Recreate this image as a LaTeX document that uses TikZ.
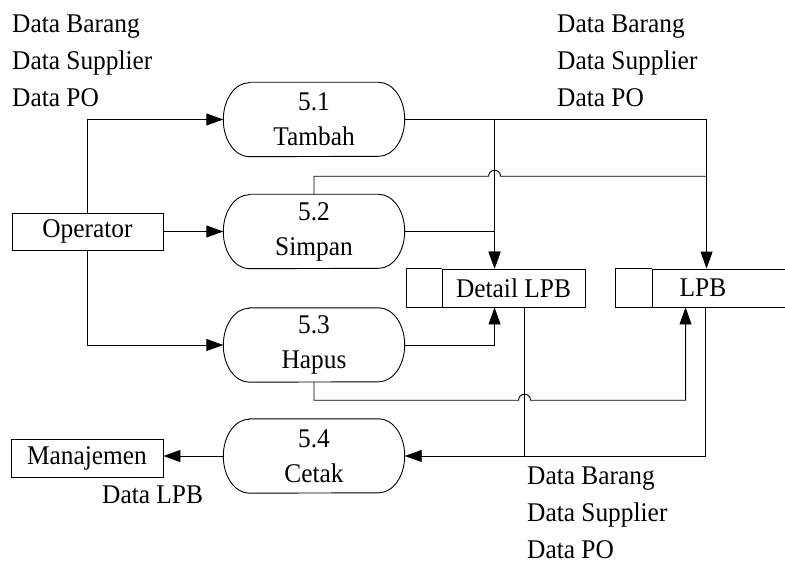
\documentclass[tikz,border=0pt]{standalone}
\usepackage{fontspec}
\setmainfont{Liberation Serif}[FakeStretch=0.94]
\usetikzlibrary{arrows.meta}
\tikzset{data flow/.style={line width=0.9pt, -{Triangle[length=17pt,width=12pt]}}}
\tikzset{process node/.style={minimum width=181pt, minimum height=74pt, inner sep=0pt,
           align=center, font=\fontsize{27}{35}\selectfont},
         entity box/.style={draw, line width=0.9pt, minimum width=151pt, minimum height=37pt, inner sep=0pt},
         store node/.style={draw, line width=0.9pt, minimum height=38pt, inner sep=0pt},
         flow text/.style={align=left, anchor=north west, inner sep=0pt}}
% outline of a process: flat top and bottom, half-ellipse ends
\newcommand{\procframe}[1]{%
  \draw[line width=0.9pt] ([xshift=26pt]#1.north west) -- ([xshift=-26pt]#1.north east)
    arc[start angle=90, end angle=-90, x radius=26pt, y radius=37pt]
    -- ([xshift=26pt]#1.south west)
    arc[start angle=270, end angle=90, x radius=26pt, y radius=37pt] -- cycle;}

\begin{document}
\begin{tikzpicture}[x=1pt, y=-1pt, every node/.style={font=\fontsize{27}{37}\selectfont}]
    \useasboundingbox (0,0) rectangle (785,567);
    % processes
    \node[process node] (p51) at (314,119.5) {5.1\\Tambah};
    \node[process node] (p52) at (314,231.5) {5.2\\Simpan};
    \node[process node] (p53) at (314,345) {5.3\\Hapus};
    \node[process node] (p54) at (314,456) {5.4\\Cetak};
    \procframe{p51} \procframe{p52} \procframe{p53} \procframe{p54}
    % entities and stores
    \node[entity box] (opr) at (87.5,231.5) {Operator};
    \node[entity box, minimum width=152pt, minimum height=38pt] (mgr) at (87,458) {Manajemen};
    \node[store node, minimum width=143pt] (dlpb) at (513.5,288) {Detail LPB};
    \draw[line width=0.9pt] (dlpb.north west) -- ++(-35pt,0) |- (dlpb.south west);
    \node[store node, minimum width=138pt] (lpb) at (721,288) {};
    \node (lpbname) at ([xshift=-18pt]lpb.center) {LPB};
    \draw[line width=0.9pt] (lpb.north west) -- ++(-36pt,0) |- (lpb.south west);
    \coordinate (dtop) at ([xshift=53pt]dlpb.north west);
    \coordinate (dbot) at ([xshift=53pt]dlpb.south west);
    \coordinate (dout) at ([xshift=83pt]dlpb.south west);
    \coordinate (ltop) at ([xshift=55pt]lpb.north west);
    \coordinate (lbot) at ([xshift=34pt]lpb.south west);
    \coordinate (lout) at ([xshift=54pt]lpb.south west);
    \coordinate (jmp1) at ([yshift=18pt]p52.north -| dtop);
    \coordinate (jmp2) at ([yshift=-18pt]p53.south -| dout);
    % flows
    \draw[data flow] (opr.north) |- (p51.west);
    \draw[data flow] (opr.east) -- (p52.west);
    \draw[data flow] (opr.south) |- (p53.west);
    \draw[data flow] (p51.east) -| (ltop);
    \draw[data flow] (dtop |- p51.east) -- (dtop);
    \draw[data flow] (p52.east) -| (dtop);
    \draw[line width=0.9pt] (p52.north) |- ([xshift=-6pt]jmp1)
      arc[start angle=180, end angle=0, radius=6pt] -- (jmp1 -| ltop);
    \draw[data flow] (p53.east) -| (dbot);
    \draw[data flow] (p53.south) |- ([xshift=-6pt]jmp2)
      arc[start angle=180, end angle=0, radius=6pt] -| (lbot);
    \draw[line width=0.9pt] (dout) -- (dout |- p54.east);
    \draw[data flow] (lout) |- (p54.east);
    \draw[data flow] (p54.west) -- (p54.west -| mgr.east);
    % labels
    \node[flow text] (inA) at (12,15) {Data Barang\\Data Supplier\\Data PO};
    \node[flow text] (inB) at (557,15) {Data Barang\\Data Supplier\\Data PO};
    \node[flow text] (outA) at (527,467) {Data Barang\\Data Supplier\\Data PO};
    \node[flow text] (outB) at (102,486) {Data LPB};
\end{tikzpicture}
\end{document}
